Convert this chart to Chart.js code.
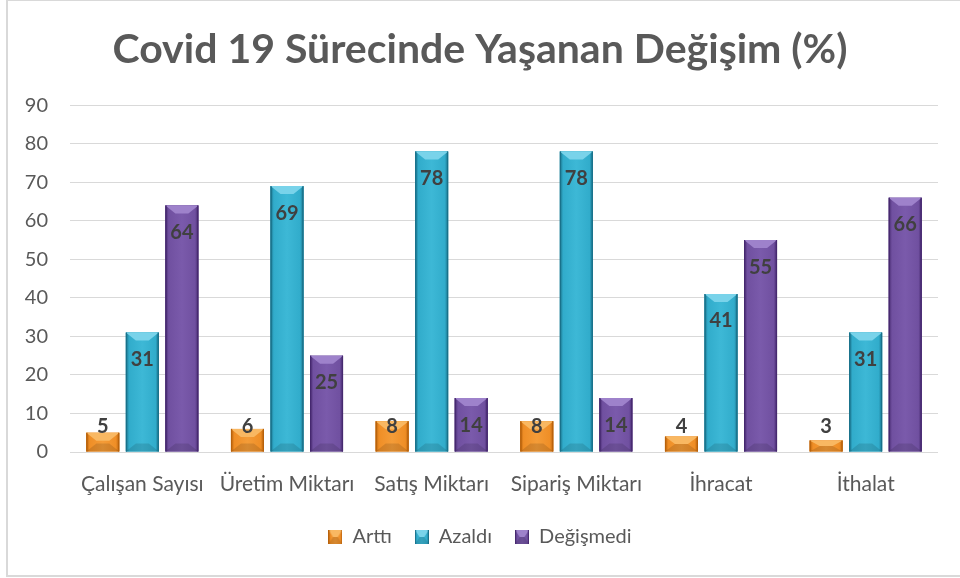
<!DOCTYPE html>
<html><head><meta charset="utf-8">
<script src="https://cdn.jsdelivr.net/npm/chart.js@4/dist/chart.umd.min.js"></script>
<style>
html,body{margin:0;padding:0;background:#fff;width:960px;height:578px;overflow:hidden}
#frame{position:absolute;left:6px;top:-1px;width:990px;height:578px;border:2px solid #D9D9D9;box-sizing:border-box}
#c{position:absolute;left:0;top:0}
</style></head><body>
<div id="frame"></div>
<canvas id="c" width="960" height="578"></canvas>
<script>
const titleText = 'Covid 19 Sürecinde Yaşanan Değişim (%)';
const categories = ['Çalışan Sayısı', 'Üretim Miktarı', 'Satış Miktarı', 'Sipariş Miktarı', 'İhracat', 'İthalat'];
const seriesNames = ['Arttı', 'Azaldı', 'Değişmedi'];
const arttiValues = [5, 6, 8, 8, 4, 3];
const azaldiValues = [31, 69, 78, 78, 41, 31];
const degismediValues = [64, 25, 14, 14, 55, 66];
const yTickMin = 0, yTickMax = 90, yTickStep = 10;

const palettes = [
  {base:'#EF8E26', mid:'#F49C38', light:'#F9B862', dark:'#B8620C'},
  {base:'#31ACCB', mid:'#3DB8D6', light:'#79D3EA', dark:'#19718A'},
  {base:'#7050A0', mid:'#7A5AAB', light:'#9E82CB', dark:'#46296F'}
];
const FONT = 'Lato';

function drawBevel(ctx, L, R, T, B, pal){
  const w = R - L, h = B - T;
  if (w <= 0 || h <= 0) return;
  const g = ctx.createLinearGradient(L, 0, R, 0);
  g.addColorStop(0, pal.dark); g.addColorStop(0.1, pal.base);
  g.addColorStop(0.5, pal.mid); g.addColorStop(0.9, pal.base); g.addColorStop(1, pal.dark);
  ctx.fillStyle = g; ctx.fillRect(L, T, w, h);
  const bx = Math.min(10, w / 3), by = Math.min(8, h / 2);
  ctx.fillStyle = 'rgba(0,0,0,0.12)';
  ctx.beginPath(); ctx.moveTo(L, B); ctx.lineTo(R, B); ctx.lineTo(R - bx, B - by); ctx.lineTo(L + bx, B - by); ctx.closePath(); ctx.fill();
  ctx.fillStyle = pal.light;
  ctx.beginPath(); ctx.moveTo(L, T); ctx.lineTo(R, T); ctx.lineTo(R - bx, T + by); ctx.lineTo(L + bx, T + by); ctx.closePath(); ctx.fill();
  ctx.fillStyle = pal.dark;
  ctx.fillRect(L, T, 1.2, h); ctx.fillRect(R - 1.2, T, 1.2, h);
}

const bevelPlugin = {
  id: 'bevel',
  afterDatasetDraw(chart, args){
    const ctx = chart.ctx, pal = palettes[args.index];
    ctx.save();
    args.meta.data.forEach(bar => {
      const p = bar.getProps(['x','y','base','width'], true);
      drawBevel(ctx, p.x - p.width / 2, p.x + p.width / 2, Math.min(p.y, p.base), Math.max(p.y, p.base), pal);
    });
    ctx.restore();
  }
};

const labelPlugin = {
  id: 'barLabels',
  afterDatasetsDraw(chart){
    const ctx = chart.ctx, zeroY = chart.scales.y.getPixelForValue(0);
    ctx.save();
    ctx.font = 'bold 20px ' + FONT; ctx.fillStyle = '#404040';
    ctx.textAlign = 'center'; ctx.textBaseline = 'middle';
    chart.data.datasets.forEach((ds, i) => {
      chart.getDatasetMeta(i).data.forEach((bar, j) => {
        const y = Math.min(bar.y + 27, zeroY - 25);
        ctx.fillText(String(ds.data[j]), bar.x, y);
      });
    });
    ctx.restore();
  }
};

function legendIcon(pal){
  const c = document.createElement('canvas'); c.width = 14; c.height = 14;
  drawBevel(c.getContext('2d'), 0, 14, 0, 14, pal);
  return c;
}

const seriesValues = [arttiValues, azaldiValues, degismediValues];
const datasets = seriesNames.map((name, i) => ({
  label: name,
  data: seriesValues[i],
  backgroundColor: palettes[i].base,
  borderWidth: 0,
  pointStyle: legendIcon(palettes[i]),
  categoryPercentage: 0.82,
  barPercentage: 0.835
}));

const yTicks = [];
for (let v = yTickMin; v <= yTickMax; v += yTickStep) yTicks.push(v);

new Chart(document.getElementById('c'), {
  type: 'bar',
  data: { labels: categories, datasets },
  plugins: [bevelPlugin, labelPlugin],
  options: {
    responsive: false, animation: false,
    layout: { padding: { left: 22, right: 22, top: 0, bottom: 21 } },
    plugins: {
      title: { display: true, text: titleText, color: '#595959',
        font: { family: FONT, size: 41, weight: 'bold' }, padding: { top: 25, bottom: 31 } },
      legend: { position: 'bottom',
        labels: { usePointStyle: true, boxWidth: 14, color: '#595959', font: { family: FONT, size: 20 }, padding: 23 } },
      tooltip: { enabled: false }
    },
    scales: {
      x: { grid: { display: false }, border: { display: false },
        ticks: { color: '#595959', font: { family: FONT, size: 21 }, padding: 12, maxRotation: 0, autoSkip: false },
        afterFit(s){ s.height = 52; } },
      y: { min: yTickMin, max: yTickMax,
        afterBuildTicks(s){ s.ticks = yTicks.map(v => ({ value: v })); },
        ticks: { color: '#595959', font: { family: FONT, size: 20 }, padding: 22 },
        grid: { color: '#D9D9D9', drawTicks: false }, border: { display: false },
        afterFit(s){ s.width = 48; } }
    }
  }
});
</script>
</body></html>
